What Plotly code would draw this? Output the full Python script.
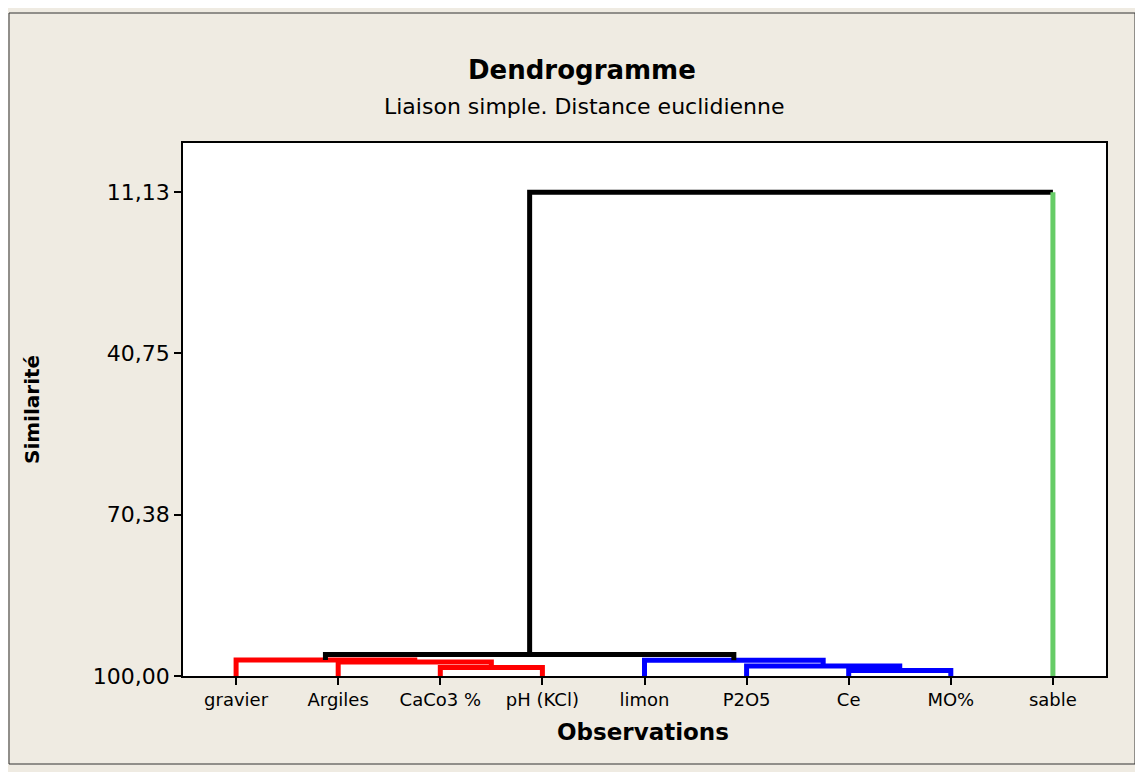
import plotly.graph_objects as go

# ---- data ----
observations = ["gravier", "Argiles", "CaCo3 %", "pH (KCl)", "limon", "P2O5", "Ce", "MO%", "sable"]
leaf_colors = ["#FF0000", "#FF0000", "#FF0000", "#FF0000",
               "#0000FF", "#0000FF", "#0000FF", "#0000FF", "#66CC66"]
# merges: (left node, right node, similarity, colour). Leaves are 0..8, merged nodes 9..
merge_left = [6, 2, 5, 1, 4, 0, 14, 15]
merge_right = [7, 3, 9, 10, 11, 12, 13, 8]
merge_sim = [98.99, 98.44, 98.16, 97.43, 97.10, 97.06, 96.05, 11.13]
merge_color = ["#0000FF", "#FF0000", "#0000FF", "#FF0000", "#0000FF", "#FF0000", "#000000", "#000000"]
y_tickvals = [100.00, 70.38, 40.75, 11.13]
y_ticktext = ["100,00", "70,38", "40,75", "11,13"]

FONT = "DejaVu Sans"

# ---- build dendrogram paths ----
n = len(observations)
node_x = {i: i + 1 for i in range(n)}
node_h = {i: 100.0 for i in range(n)}
segments = []  # (xs, ys, color)
for k, (a, b, s, c) in enumerate(zip(merge_left, merge_right, merge_sim, merge_color)):
    xa, xb = node_x[a], node_x[b]
    ca = leaf_colors[a] if a < n else c
    cb = leaf_colors[b] if b < n else c
    segments.append(([xa, xa], [node_h[a], s], ca))
    segments.append(([xa, xb], [s, s], c))
    segments.append(([xb, xb], [s, node_h[b]], cb))
    node_x[n + k] = (xa + xb) / 2
    node_h[n + k] = s

fig = go.Figure()
paths = []
for xs, ys, col in segments:
    if paths and paths[-1][2] == col and paths[-1][0][-1] == xs[0] and paths[-1][1][-1] == ys[0]:
        paths[-1][0].append(xs[1]); paths[-1][1].append(ys[1])
    else:
        paths.append(([xs[0], xs[1]], [ys[0], ys[1]], col))
for xs, ys, col in paths:
    fig.add_trace(go.Scatter(x=xs, y=ys, mode="lines",
                             line=dict(color=col, width=5),
                             hoverinfo="skip", showlegend=False))

OFF = 8  # page body margin
L, R, T, B = 183 - OFF, 1106 - OFF, 143 - OFF, 676 - OFF
W, H = 1135, 764
pw, ph = R - L, B - T

def px(x):
    return (x - OFF - L) / pw

def py(y):
    return (B - (y - OFF)) / ph

fig.update_layout(
    width=W, height=H,
    margin=dict(l=L, r=W - R, t=T, b=H - B, pad=0),
    paper_bgcolor="rgb(239,235,226)",
    plot_bgcolor="white",
    font=dict(family=FONT, color="black"),
    showlegend=False,
    xaxis=dict(range=[0.48, 9.52], tickmode="array", tickvals=list(range(1, n + 1)),
               ticktext=observations, ticks="outside", ticklen=7, tickwidth=1.5,
               tickcolor="black", showgrid=False, zeroline=False,
               showline=True, linecolor="black", linewidth=1.5, mirror=True,
               tickfont=dict(size=18, family=FONT)),
    yaxis=dict(range=[100.0, 2.1], tickmode="array", tickvals=y_tickvals,
               ticktext=y_ticktext, ticks="outside", ticklen=7, tickwidth=1.5,
               tickcolor="black", showgrid=False, zeroline=False,
               showline=True, linecolor="black", linewidth=1.5, mirror=True,
               tickfont=dict(size=22, family=FONT)),
    annotations=[
        dict(text="<b>Dendrogramme</b>", x=px(582), y=py(70), xref="paper", yref="paper",
             showarrow=False, xanchor="center", yanchor="middle", font=dict(size=26, family=FONT)),
        dict(text="Liaison simple. Distance euclidienne", x=px(584), y=py(106), xref="paper",
             yref="paper", showarrow=False, xanchor="center", yanchor="middle",
             font=dict(size=22, family=FONT)),
        dict(text="<b>Observations</b>", x=px(643), y=py(732), xref="paper", yref="paper",
             showarrow=False, xanchor="center", yanchor="middle", font=dict(size=23, family=FONT)),
        dict(text="<b>Similarité</b>", x=px(32), y=py(410), xref="paper", yref="paper",
             showarrow=False, xanchor="center", yanchor="middle", textangle=-90,
             font=dict(size=20, family=FONT)),
    ],
    shapes=[
        dict(type="rect", xref="paper", yref="paper", x0=px(9), x1=px(1135), y0=py(764), y1=py(13),
             line=dict(color="#333333", width=1), fillcolor="rgba(0,0,0,0)", layer="below"),
    ],
)

fig.write_html("out.html")
